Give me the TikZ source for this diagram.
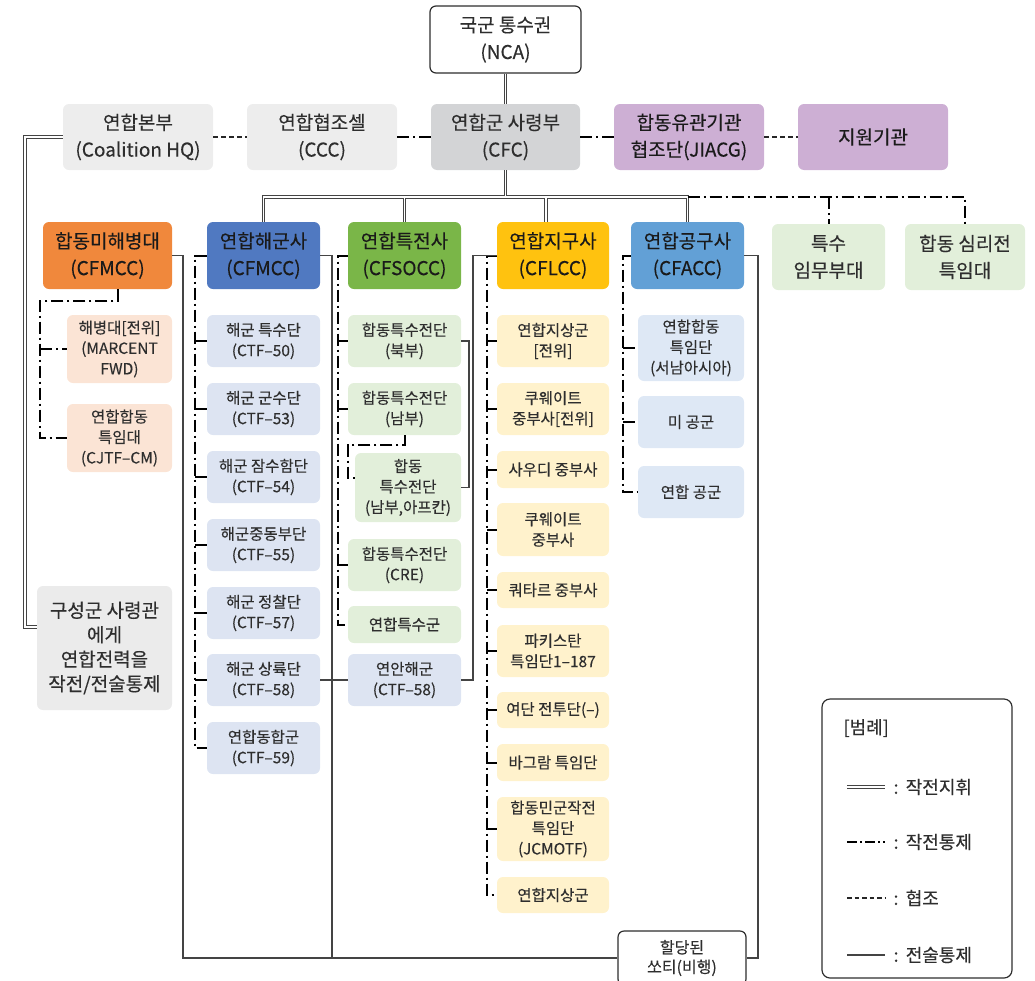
\documentclass[tikz,border=0pt]{standalone}
\usepackage{fontspec}
\setmainfont{Noto Sans CJK KR}[FakeBold=0.25]
\usetikzlibrary{calc}

\definecolor{txt}{HTML}{2E2E2E}
\definecolor{txtdark}{HTML}{1A1A1A}
\definecolor{hqgray}{HTML}{EDEDED}
\definecolor{cfcgray}{HTML}{D3D4D6}
\definecolor{lav}{HTML}{CDAFD4}
\definecolor{orng}{HTML}{F0883C}
\definecolor{navy}{HTML}{5079C1}
\definecolor{grn}{HTML}{7AB648}
\definecolor{ylw}{HTML}{FFC20F}
\definecolor{sky}{HTML}{62A0D6}
\definecolor{mint}{HTML}{E2EFDA}
\definecolor{peach}{HTML}{FBE4D5}
\definecolor{bluelt}{HTML}{DDE4F2}
\definecolor{ylwlt}{HTML}{FFF2CC}
\definecolor{skylt}{HTML}{DEE8F5}
\definecolor{gusgray}{HTML}{EBEBEB}
\definecolor{wire}{HTML}{444444}

\tikzset{
  box/.style={rounded corners=6pt, inner sep=0pt, align=center, text=txt},
  sz/.style 2 args={minimum width=#1pt, minimum height=#2pt},
  big/.style={font=\fontsize{19}{27}\selectfont},
  small/.style={font=\fontsize{15.5}{20.5}\selectfont},
  comp/.style={box, big, text=txtdark},
  % command (double line): dark outer pass, white inner pass
  cmdouter/.style={draw=wire, line width=3.9pt},
  cmdinner/.style={draw=white, line width=1.5pt},
  % operational control: dash-dot
  opc/.style={draw=black, line width=2pt, dash pattern=on 12pt off 4pt on 2pt off 4pt},
  % coordination: dashed
  coord/.style={draw=black!85, line width=1.9pt, dash pattern=on 5pt off 3pt},
  % tactical control: thin solid
  tac/.style={draw=wire, line width=1.2pt},
}

\begin{document}
\begin{tikzpicture}[x=1pt,y=-1pt]
\useasboundingbox (0,0) rectangle (1035,980);
\clip (0,0) rectangle (1035,980);

% ---------- top level ----------
\node[box, big, draw=txt, line width=1.2pt, fill=white, sz={151}{67}] (nca) at (505.5,39.5) {국군 통수권\\(NCA)};
\node[box, big, fill=hqgray, sz={150}{66}] (hq) at (138,137) {연합본부\\(Coalition HQ)};
\node[box, big, fill=hqgray, sz={150}{66}] (ccc) at (322,137) {연합협조셀\\(CCC)};
\node[box, big, fill=cfcgray, sz={149}{66}] (cfc) at (505.5,137) {연합군 사령부\\(CFC)};
\node[box, big, fill=lav, text=txtdark, sz={150}{66}] (jiacg) at (689,137) {합동유관기관\\협조단(JIACG)};
\node[box, big, fill=lav, text=txtdark, sz={150}{66}] (sup) at (873,137) {지원기관};

% ---------- components ----------
\node[comp, fill=orng, sz={129}{67}] (cfmcco) at (107.5,255.5) {합동미해병대\\(CFMCC)};
\node[comp, fill=navy, sz={113}{67}] (cfmccb) at (263.5,255.5) {연합해군사\\(CFMCC)};
\node[comp, fill=grn, sz={113}{67}] (cfsocc) at (404.5,255.5) {연합특전사\\(CFSOCC)};
\node[comp, fill=ylw, sz={112}{67}] (cflcc) at (553,255.5) {연합지구사\\(CFLCC)};
\node[comp, fill=sky, sz={113}{67}] (cfacc) at (687.5,255.5) {연합공구사\\(CFACC)};
\node[box, big, fill=mint, sz={113}{66}] (stf) at (828.5,257) {특수\\임무부대};
\node[box, big, fill=mint, sz={120}{66}] (psy) at (965,257) {합동 심리전\\특임대};

% ---------- marine children ----------
\node[box, small, fill=peach, sz={105}{68}] (marcent) at (119.5,349) {해병대[전위]\\(MARCENT\\FWD)};
\node[box, small, fill=peach, sz={105}{68}] (cjtfcm) at (119.5,438) {연합합동\\특임대\\(CJTF–CM)};

% ---------- naval children ----------
\node[box, small, fill=bluelt, sz={113}{52}] (ctf50) at (263.5,341) {해군 특수단\\(CTF–50)};
\node[box, small, fill=bluelt, sz={113}{52}] (ctf53) at (263.5,409) {해군 군수단\\(CTF–53)};
\node[box, small, fill=bluelt, sz={113}{52}] (ctf54) at (263.5,477) {해군 잠수함단\\(CTF–54)};
\node[box, small, fill=bluelt, sz={113}{52}] (ctf55) at (263.5,545) {해군중동부단\\(CTF–55)};
\node[box, small, fill=bluelt, sz={113}{52}] (ctf57) at (263.5,613) {해군 정찰단\\(CTF–57)};
\node[box, small, fill=bluelt, sz={113}{52}] (ctf58) at (263.5,680) {해군 상륙단\\(CTF–58)};
\node[box, small, fill=bluelt, sz={113}{52}] (ctf59) at (263.5,748) {연합동합군\\(CTF–59)};

% ---------- special operations children ----------
\node[box, small, fill=mint, sz={113}{52}] (sofn) at (404.5,341) {합동특수전단\\(북부)};
\node[box, small, fill=mint, sz={113}{52}] (sofs) at (404.5,409) {합동특수전단\\(남부)};
\node[box, small, fill=mint, sz={106}{69}] (sofa) at (408,487.5) {합동\\특수전단\\(남부,아프칸)};
\node[box, small, fill=mint, sz={113}{52}] (sofc) at (404.5,565) {합동특수전단\\(CRE)};
\node[box, small, fill=mint, sz={113}{37}] (sofj) at (404.5,624.5) {연합특수군};
\node[box, small, fill=bluelt, sz={113}{52}] (coast) at (404.5,680) {연안해군\\(CTF–58)};

% ---------- land children ----------
\node[box, small, fill=ylwlt, sz={112}{52}] (l1) at (553,341) {연합지상군\\{[}전위{]}};
\node[box, small, fill=ylwlt, sz={112}{52}] (l2) at (553,409) {쿠웨이트\\중부사[전위]};
\node[box, small, fill=ylwlt, sz={112}{37}] (l3) at (553,469.5) {사우디 중부사};
\node[box, small, fill=ylwlt, sz={112}{53}] (l4) at (553,529.5) {쿠웨이트\\중부사};
\node[box, small, fill=ylwlt, sz={112}{36}] (l5) at (553,590) {쿼타르 중부사};
\node[box, small, fill=ylwlt, sz={112}{52}] (l6) at (553,651) {파키스탄\\특임단1–187};
\node[box, small, fill=ylwlt, sz={112}{36}] (l7) at (553,710) {여단 전투단(–)};
\node[box, small, fill=ylwlt, sz={112}{37}] (l8) at (553,762.5) {바그람 특임단};
\node[box, small, fill=ylwlt, sz={112}{64}] (l9) at (553,829) {합동민군작전\\특임단\\(JCMOTF)};
\node[box, small, fill=ylwlt, sz={112}{36}] (l10) at (553,895) {연합지상군};

% ---------- air children ----------
\node[box, small, fill=skylt, sz={106}{66}] (a1) at (691,348) {연합합동\\특임단\\(서남아시아)};
\node[box, small, fill=skylt, sz={106}{52}] (a2) at (691,422) {미 공군};
\node[box, small, fill=skylt, sz={106}{52}] (a3) at (691,492) {연합 공군};

% ---------- notes ----------
\node[box, font=\fontsize{19}{24.5}\selectfont, fill=gusgray, sz={135}{124}] (gus) at (104.5,648) {구성군 사령관\\에게\\연합전력을\\작전/전술통제};
\node[box, font=\fontsize{16}{19.5}\selectfont, draw=txt, line width=1.2pt, fill=white, sz={128}{54}] (sortie) at (682,958) {할당된\\쏘티(비행)};

% ---------- routing points ----------
\coordinate (bus) at (0,197);
\coordinate (hqbend) at (25,137);
\coordinate (olane) at (40,301);
\coordinate (blane) at (195,255.5);
\coordinate (glane) at (338,255.5);
\coordinate (ylane) at (487,255.5);
\coordinate (alane) at (623,255.5);
\coordinate (botL) at (183,958);
\coordinate (botM) at (332,958);
\coordinate (botR) at (758,958);
\coordinate (coastbend) at (473,680);
\coordinate (sofbend) at (469,341);
\coordinate (afgbend) at (348,445);

% ---------- command lines (double) ----------
\newcommand\commandnet[1]{%
  \draw[#1] (nca.south) -- (cfc.north);
  \draw[#1] (cfc.south) -- (cfc.south |- bus);
  \draw[#1] (cfmccb.north) -- (cfmccb.north |- bus) -- (cfacc.north |- bus) -- (cfacc.north);
  \draw[#1] (cfsocc.north) -- (cfsocc.north |- bus);
  \draw[#1] ([xshift=-7pt]cflcc.north) -- ([xshift=-7pt]cflcc.north |- bus);
  \draw[#1] (hq.west) -- (hqbend) |- ([yshift=21pt]gus.west);
}
\commandnet{cmdouter}
\commandnet{cmdinner}

% ---------- coordination and control between HQs ----------
\draw[coord] (hq.east) -- (ccc.west);
\draw[opc] (ccc.east) -- (cfc.west);
\draw[opc] (cfc.east) -- (jiacg.west);
\draw[coord] (jiacg.east) -- (sup.west);

% ---------- operational control to task forces ----------
\draw[opc] (cfacc.north |- bus) -- (psy.north |- bus) -- (psy.north);
\draw[opc] (stf.north |- bus) -- (stf.north);

% marine
\draw[opc] ([xshift=10pt]cfmcco.south) |- (olane) |- (cjtfcm.west);
\draw[opc] (marcent.west -| olane) -- (marcent.west);

% naval
\draw[opc] (cfmccb.west) -- (blane) |- (ctf59.west);
\foreach \n in {ctf50,ctf53,ctf54,ctf55,ctf57,ctf58}
  \draw[opc] (\n.west -| blane) -- (\n.west);

% special operations
\draw[opc] (cfsocc.west) -- (glane) |- (sofj.west);
\foreach \n in {sofn,sofs,sofc}
  \draw[opc] (\n.west -| glane) -- (\n.west);
\draw[opc] (sofs.south) |- (afgbend) |- ([yshift=10pt]sofa.west);

% land
\draw[opc] (cflcc.west) -- (ylane) |- (l10.west);
\foreach \n in {l1,l2,l3,l4,l5,l6,l7,l8,l9}
  \draw[opc] (\n.west -| ylane) -- (\n.west);

% air
\draw[opc] (cfacc.west) -- (alane) |- (a3.west);
\foreach \n in {a1,a2}
  \draw[opc] (\n.west -| alane) -- (\n.west);

% ---------- tactical control ----------
\draw[tac] (cfmcco.east) -| (botL) -- (sortie.west);
\draw[tac] (cfmccb.east) -| (botM);
\draw[tac] (cfacc.east) -| (botR) -- (sortie.east);
\draw[tac] (ctf58.east) -- (coast.west);
\draw[tac] (cflcc.west) -| (coastbend) -- (coast.east);
\draw[tac] (sofn.east) -- (sofbend) |- (sofa.east);

% ---------- legend ----------
\node[draw=txt, line width=1.2pt, rounded corners=8pt, sz={190}{279}] (legend) at (917,838.5) {};
\node[anchor=west, text=txt, font=\fontsize{18}{20}\selectfont] (legtitle) at (840,728) {[범례]};
\coordinate (k1a) at (847,787); \coordinate (k1b) at (885,787);
\coordinate (k2a) at (847,842); \coordinate (k2b) at (885,842);
\coordinate (k3a) at (847,898); \coordinate (k3b) at (885,898);
\coordinate (k4a) at (847,955); \coordinate (k4b) at (885,955);
\draw[draw=wire, line width=3.6pt] (k1a) -- (k1b);
\draw[draw=white, line width=1.3pt] (k1a) -- (k1b);
\draw[opc, line width=2.6pt, dash pattern=on 10pt off 3pt on 2pt off 3pt] (k2a) -- (k2b);
\draw[coord, line width=1.7pt, dash pattern=on 4.5pt off 3pt] (k3a) -- (k3b);
\draw[tac] (k4a) -- (k4b);
\foreach \k/\t in {k1b/작전지휘, k2b/작전통제, k3b/협조, k4b/전술통제}
  \node[anchor=west, text=txt, font=\fontsize{18}{20}\selectfont] at ([xshift=5pt]\k) {:\hspace{0.4em}\t};

\end{tikzpicture}
\end{document}
